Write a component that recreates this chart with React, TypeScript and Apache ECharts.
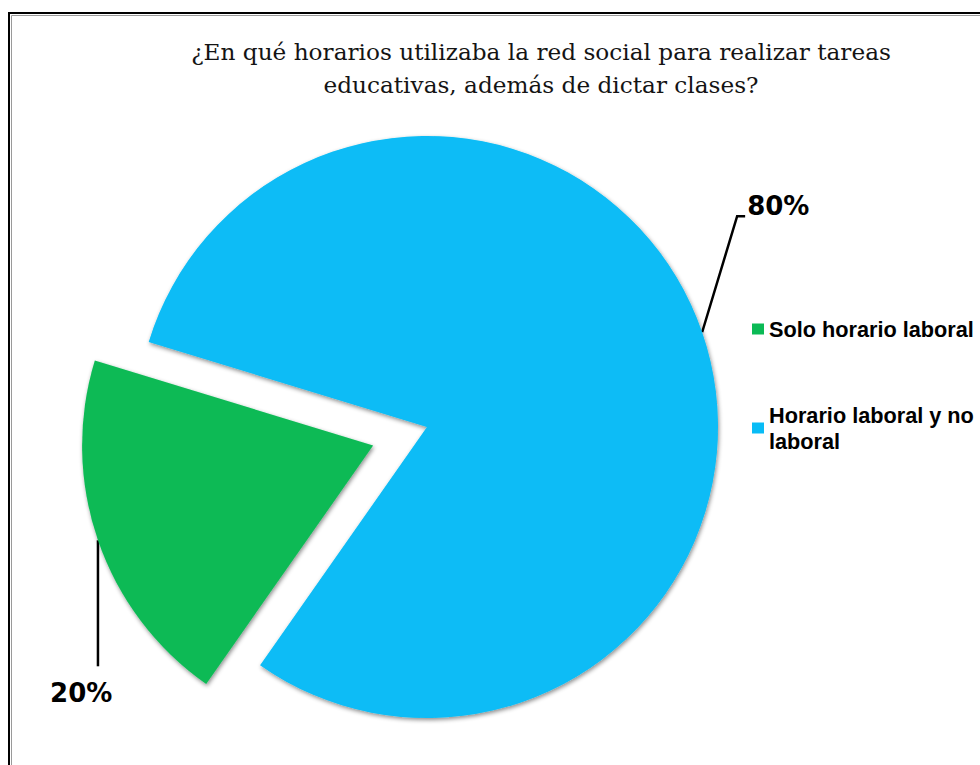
import React, { useEffect, useRef } from "react";
import * as echarts from "echarts";

const categories = ["Solo horario laboral", "Horario laboral y no laboral"];
const values = [20, 80];
const colors = ["#0BBA55", "#08BCF6"];
const titleLines = [
  "¿En qué horarios utilizaba la red social para realizar tareas",
  "educativas, además de dictar clases?",
];
const legendLabels: Record<string, string> = {
  "Solo horario laboral": "Solo horario laboral",
  "Horario laboral y no laboral": "Horario laboral y no\nlaboral",
};

export default function App() {
  const ref = useRef<HTMLDivElement>(null);
  useEffect(() => {
    if (!ref.current) return;
    const chart = echarts.init(ref.current, undefined, { renderer: "svg" });
    const legendText = {
      fontFamily: "Liberation Sans",
      fontWeight: "bold",
      fontSize: 21.7,
      lineHeight: 26,
      color: "#000",
    };
    const option: any = {
      animation: false,
      backgroundColor: "#ffffff",
      title: {
        text: titleLines.join("\n"),
        left: 536,
        top: 30,
        textAlign: "center",
        textStyle: {
          fontFamily: "DejaVu Serif",
          fontWeight: "normal",
          fontSize: 23.2,
          lineHeight: 33,
          color: "#141414",
        },
      },
      legend: {
        orient: "vertical",
        left: 752,
        top: 316,
        padding: 0,
        itemGap: 47,
        itemWidth: 12,
        itemHeight: 11,
        icon: "rect",
        selectedMode: false,
        formatter: (name: string) => legendLabels[name] ?? name,
        textStyle: legendText,
        data: [
          { name: categories[0] },
          {
            name: categories[1],
            textStyle: { ...legendText, padding: [26, 0, 0, 0] },
          },
        ],
      },
      graphic: [
        {
          type: "rect",
          z: -10,
          silent: true,
          shape: { x: 9, y: 13, width: 1100, height: 900 },
          style: { fill: "none", stroke: "#000", lineWidth: 2 },
        },
        {
          type: "rect",
          z: -10,
          silent: true,
          shape: { x: 11.5, y: 15.5, width: 1100, height: 900 },
          style: { fill: "none", stroke: "#9a9a9a", lineWidth: 1 },
        },
      ],
      series: [
        {
          type: "pie",
          center: [427, 427],
          radius: 291,
          startAngle: 235,
          clockwise: true,
          selectedMode: "single",
          selectedOffset: 57,
          silent: true,
          avoidLabelOverlap: false,
          itemStyle: {
            shadowBlur: 4,
            shadowColor: "rgba(0,0,0,0.45)",
            shadowOffsetX: 1,
            shadowOffsetY: 2,
          },
          label: {
            show: true,
            position: "outside",
            formatter: (p: any) => Math.round(p.percent) + "%",
            fontFamily: "DejaVu Sans",
            fontWeight: "bold",
            fontSize: 26,
            color: "#000",
          },
          labelLine: {
            show: true,
            lineStyle: { color: "#000", width: 2.5 },
          },
          labelLayout: (params: any) => {
            const p0 = params.labelLinePoints
              ? params.labelLinePoints[0]
              : [params.rect.x, params.rect.y];
            if (params.dataIndex === 1) {
              const p1 = [p0[0] + 35, p0[1] - 116];
              const p2 = [p1[0] + 8, p1[1]];
              return {
                x: p2[0] + 2,
                y: p2[1] - 10,
                align: "left",
                verticalAlign: "middle",
                labelLinePoints: [p0, p1, p2],
              };
            }
            const p1 = [p0[0], p0[1] + 62];
            const p2 = [p0[0], p0[1] + 126];
            return { labelLinePoints: [p0, p1, p2] };
          },
          data: categories.map((name, i) => ({
            name,
            value: values[i],
            selected: i === 0,
            itemStyle: { color: colors[i] },
            label:
              i === 0
                ? {
                    alignTo: "edge",
                    edgeDistance: 104,
                    lineHeight: 37,
                    formatter: (p: any) =>
                      "\n\n\n\n\n\n\n\n" + Math.round(p.percent) + "%",
                  }
                : undefined,
          })),
        },
      ],
    };
    chart.setOption(option);
    return () => chart.dispose();
  }, []);
  return (
    <div
      ref={ref}
      style={{ position: "fixed", left: 0, top: 0, width: 980, height: 765 }}
    />
  );
}
